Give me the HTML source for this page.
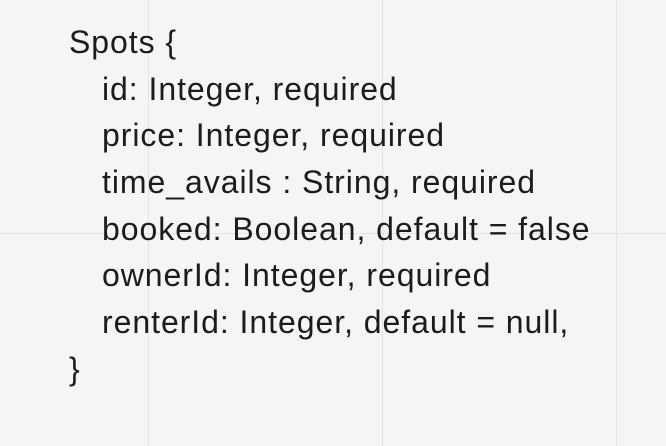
<!DOCTYPE html>
<html><head><style>
html,body{margin:0;padding:0}
body{width:666px;height:446px;background:#f5f5f5;position:relative;overflow:hidden;font-family:"Liberation Sans",sans-serif;color:#1c1c1c}
.v{position:absolute;top:0;width:1px;height:446px;background:#e4e4e4}
.h{position:absolute;left:0;height:1px;width:666px;background:#e4e4e4}
.t{position:absolute;font-size:32px;letter-spacing:0.95px;line-height:40px;white-space:nowrap}
</style></head><body>
<div class="v" style="left:148px"></div>
<div class="v" style="left:382px"></div>
<div class="v" style="left:616px"></div>
<div class="h" style="top:233px"></div>
<div class="t" style="left:69px;top:22px">Spots {</div>
<div class="t" style="left:102px;top:69px">id: Integer, required</div>
<div class="t" style="left:102px;top:115px">price: Integer, required</div>
<div class="t" style="left:102px;top:162px">time_avails : String, required</div>
<div class="t" style="left:102px;top:209px">booked: Boolean, default = false</div>
<div class="t" style="left:102px;top:255px">ownerId: Integer, required</div>
<div class="t" style="left:102px;top:302px">renterId: Integer, default = null,</div>
<div class="t" style="left:69px;top:349px">}</div>
</body></html>
